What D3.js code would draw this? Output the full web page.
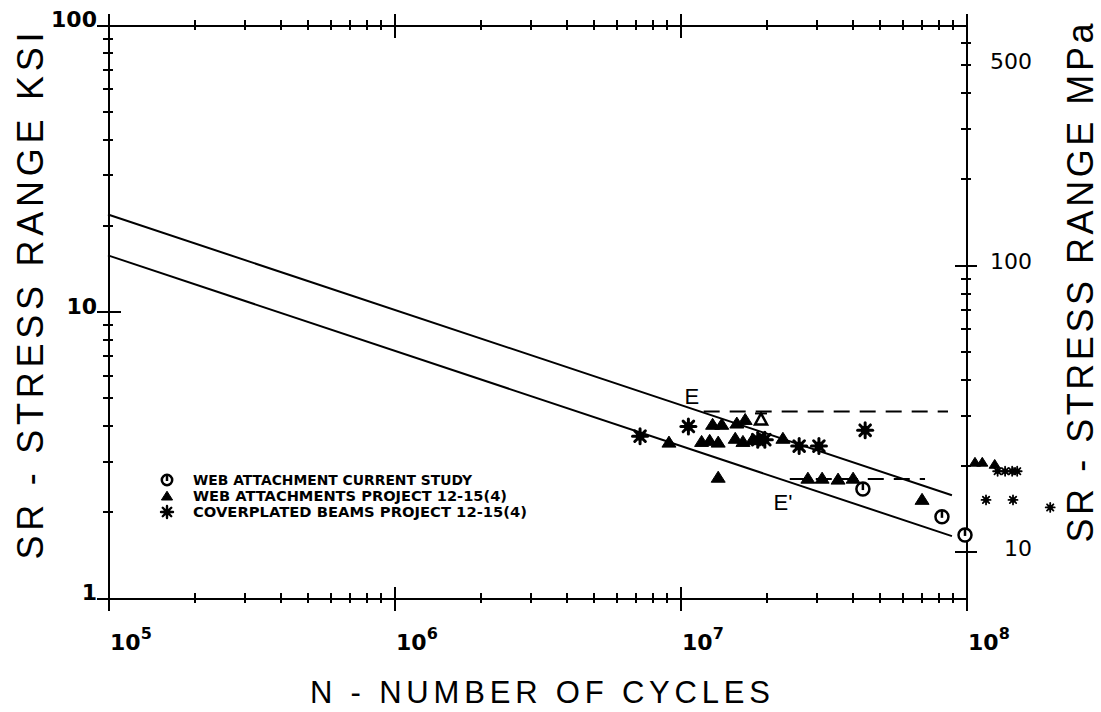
<!doctype html>
<html>
<head>
<meta charset="utf-8">
<title>SR - N fatigue data, category E and E'</title>
<script src="https://d3js.org/d3.v7.min.js"></script>
<style>
  body { margin: 0; background: #fff; }
  .axis path, .axis line { fill: none; stroke: #000; stroke-width: 2; shape-rendering: crispEdges; }
  .title { font-family: "Liberation Sans", sans-serif; fill: #000; }
  .lbl { font-family: "DejaVu Sans", sans-serif; fill: #000; }
</style>
</head>
<body>
<script>
// ---- data (N = cycles, s = stress range in ksi) ----
var currentStudy = [
  {n: 4.36e7, s: 2.40},
  {n: 8.24e7, s: 1.92},
  {n: 9.92e7, s: 1.66}
];
var webAttachments = [
  {n: 9.15e6, s: 3.50}, {n: 1.19e7, s: 3.52}, {n: 1.27e7, s: 3.55}, {n: 1.36e7, s: 3.50},
  {n: 1.30e7, s: 4.04}, {n: 1.40e7, s: 4.04}, {n: 1.58e7, s: 4.08}, {n: 1.69e7, s: 4.20},
  {n: 1.56e7, s: 3.61}, {n: 1.66e7, s: 3.52}, {n: 1.79e7, s: 3.57}, {n: 2.29e7, s: 3.61},
  {n: 1.36e7, s: 2.64}, {n: 2.80e7, s: 2.62}, {n: 3.14e7, s: 2.62}, {n: 3.57e7, s: 2.60},
  {n: 4.03e7, s: 2.62}, {n: 7.02e7, s: 2.21}
];
var webAttachmentsOpen = [ {n: 1.92e7, s: 4.20} ];
var webRunouts = [ {n: 1.075e8, s: 2.98}, {n: 1.14e8, s: 2.98}, {n: 1.26e8, s: 2.93} ];
var coverplated = [
  {n: 7.25e6, s: 3.67}, {n: 1.07e7, s: 3.97}, {n: 1.87e7, s: 3.57}, {n: 1.98e7, s: 3.57},
  {n: 2.61e7, s: 3.39}, {n: 3.06e7, s: 3.39}, {n: 4.44e7, s: 3.85}
];
var coverRunouts = [
  {n: 1.29e8, s: 2.77}, {n: 1.37e8, s: 2.77}, {n: 1.45e8, s: 2.77}, {n: 1.51e8, s: 2.77},
  {n: 1.175e8, s: 2.20}, {n: 1.46e8, s: 2.20}, {n: 1.97e8, s: 2.07}
];
// design curves and fatigue thresholds
var curveE  = [ {n: 1e5, s: 21.8}, {n: 8.93e7, s: 2.285} ];
var curveE2 = [ {n: 1e5, s: 15.7}, {n: 8.93e7, s: 1.644} ];
var thresholdE  = [ {n: 1.21e7, s: 4.48}, {n: 8.65e7, s: 4.48} ];
var thresholdE2 = [ {n: 2.42e7, s: 2.60}, {n: 7.19e7, s: 2.60} ];
var curveLabels = [ {text: "E", n: 1.10e7, s: 5.06}, {text: "E'", n: 2.29e7, s: 2.16} ];

var xExponents = ["5", "6", "7", "8"];
var xDecades = [1e5, 1e6, 1e7, 1e8];
var ksiLabels = [1, 10, 100];
var mpaLabels = [10, 100, 500];
var legendTexts = [
  "WEB ATTACHMENT  CURRENT STUDY",
  "WEB ATTACHMENTS  PROJECT 12-15(4)",
  "COVERPLATED BEAMS  PROJECT 12-15(4)"
];

// ---- drawing ----
var W = 1101, H = 712;
var svg = d3.select("body").append("svg").attr("width", W).attr("height", H);

var x = d3.scaleLog().domain([1e5, 1e8]).range([108, 966]);
var y = d3.scaleLog().domain([1, 100]).range([598, 25]);
var yM = d3.scaleLog().domain([6.895, 689.5]).range([598, 25]); // 1 ksi = 6.895 MPa

function isDecade(v) { return Math.abs(Math.log10(v) - Math.round(Math.log10(v))) < 1e-6; }

// bottom + top axes
function hAxis(gen, ypos) {
  var g = svg.append("g").attr("class", "axis").attr("transform", "translate(0," + ypos + ")")
    .call(gen.tickValues(x.ticks()).tickFormat("").tickSizeInner(0).tickSizeOuter(0));
  g.selectAll(".tick line")
    .attr("y1", function(d){ return isDecade(d) ? -11 : -5; })
    .attr("y2", function(d){ return isDecade(d) ? 13 : 5; });
  return g;
}
hAxis(d3.axisBottom(x), 598);
hAxis(d3.axisTop(x), 25);

// left + right axes
var gl = svg.append("g").attr("class", "axis").attr("transform", "translate(108,0)")
  .call(d3.axisLeft(y).tickValues(y.ticks()).tickFormat("").tickSizeInner(0).tickSizeOuter(0));
gl.selectAll(".tick line")
  .attr("x1", function(d){ return isDecade(d) ? -11 : -5; })
  .attr("x2", function(d){ return isDecade(d) ? 13 : 5; });

var gr = svg.append("g").attr("class", "axis").attr("transform", "translate(966,0)")
  .call(d3.axisRight(yM).tickValues(yM.ticks().filter(function(v){ return v >= 10; }))
    .tickFormat("").tickSizeInner(0).tickSizeOuter(0));
gr.selectAll(".tick line")
  .attr("x1", function(d){ return isDecade(d) ? -11 : -5; })
  .attr("x2", function(d){ return isDecade(d) ? 11 : 5; });

// tick labels
var xl = svg.selectAll(".xlab").data(xDecades).enter().append("text")
  .attr("class", "lbl").attr("x", function(d){ return x(d) + 2; }).attr("y", 650)
  .style("font-size", "22px").style("font-weight", "bold");
xl.append("tspan").text("10");
xl.append("tspan").attr("dy", -11).style("font-size", "16px")
  .text(function(d, i){ return xExponents[i]; });

svg.selectAll(".ylab").data(ksiLabels).enter().append("text")
  .attr("class", "lbl").attr("x", 97).attr("y", function(d){ return y(d) + 2; })
  .attr("text-anchor", "end").style("font-size", "22px").style("font-weight", "bold")
  .text(function(d){ return d; });

svg.selectAll(".mlab").data(mpaLabels).enter().append("text")
  .attr("class", "lbl").attr("x", 1032).attr("y", function(d){ return yM(d) + 4; })
  .attr("text-anchor", "end").style("font-size", "22px")
  .text(function(d){ return d; });

// axis titles
svg.append("text").attr("class", "title")
  .attr("x", 540).attr("y", 703).attr("text-anchor", "middle")
  .attr("textLength", 460).attr("lengthAdjust", "spacing")
  .style("font-size", "31px").text("N - NUMBER OF CYCLES");
svg.append("text").attr("class", "title")
  .attr("transform", "translate(43,296) rotate(-90)").attr("text-anchor", "middle")
  .attr("textLength", 527).attr("lengthAdjust", "spacing")
  .style("font-size", "36px").text("SR - STRESS RANGE KSI");
svg.append("text").attr("class", "title")
  .attr("transform", "translate(1093,283) rotate(-90)").attr("text-anchor", "middle")
  .attr("textLength", 519).attr("lengthAdjust", "spacing")
  .style("font-size", "36px").text("SR - STRESS RANGE MPa");

// curves
var line = d3.line().x(function(d){ return x(d.n); }).y(function(d){ return y(d.s); });
[curveE, curveE2].forEach(function(c){
  svg.append("path").datum(c).attr("d", line)
    .attr("fill", "none").attr("stroke", "#000").attr("stroke-width", 2);
});
[thresholdE, thresholdE2].forEach(function(c){
  svg.append("path").datum(c).attr("d", line)
    .attr("fill", "none").attr("stroke", "#000").attr("stroke-width", 2)
    .attr("stroke-dasharray", "16,10");
});
svg.selectAll(".clab").data(curveLabels).enter().append("text")
  .attr("class", "title").attr("x", function(d){ return x(d.n); }).attr("y", function(d){ return y(d.s) + 8; })
  .attr("text-anchor", "middle").style("font-size", "22px")
  .text(function(d){ return d.text; });

// symbols
function tri(g, k) {
  g.append("path").attr("d", "M0," + (-6*k) + "L" + (7*k) + "," + (5*k) + "L" + (-7*k) + "," + (5*k) + "Z")
    .attr("fill", "#000").attr("stroke", "#000").attr("stroke-width", 1);
}
function openTri(g) {
  g.append("path").attr("d", "M0,-6L6,5L-6,5Z")
    .attr("fill", "none").attr("stroke", "#000").attr("stroke-width", 2.5);
  g.append("line").attr("x1", -6).attr("x2", 6).attr("y1", -6).attr("y2", -6)
    .attr("stroke", "#000").attr("stroke-width", 2);
}
function star(g, k) {
  var arms = d3.range(8).map(function(i){ return i * Math.PI / 4; });
  arms.forEach(function(a){
    g.append("line").attr("x1", 0).attr("y1", 0)
      .attr("x2", 7.5*k*Math.cos(a)).attr("y2", 7.5*k*Math.sin(a))
      .attr("stroke", "#000").attr("stroke-width", 3*k).attr("stroke-linecap", "round");
  });
  g.append("circle").attr("r", 4.5*k).attr("fill", "#000");
}
function ring(g, k) {
  g.append("circle").attr("r", 6.5*k).attr("fill", "#fff").attr("stroke", "#000").attr("stroke-width", 2.5);
  g.append("line").attr("x1", 0).attr("x2", 0).attr("y1", -6.5*k).attr("y2", 1)
    .attr("stroke", "#000").attr("stroke-width", 2.5);
}

function plot(data, draw, k) {
  svg.append("g").selectAll("g").data(data).enter().append("g")
    .attr("transform", function(d){ return "translate(" + x(d.n) + "," + y(d.s) + ")"; })
    .each(function(){ draw(d3.select(this), k); });
}
plot(coverplated, star, 1);
plot(coverRunouts, star, 0.6);
plot(webAttachments, tri, 1);
plot(webRunouts, tri, 0.8);
plot(webAttachmentsOpen, openTri, 1);
plot(currentStudy, ring, 1);

// legend
var legendDraw = [ring, tri, star];
var legendLen = [279, 314, 334];
legendTexts.forEach(function(t, i){
  var ly = 480 + i * 16;
  var g = svg.append("g").attr("transform", "translate(167," + ly + ")");
  legendDraw[i](g, 0.8);
  svg.append("text").attr("class", "lbl").attr("x", 193).attr("y", ly + 5)
    .attr("textLength", legendLen[i]).attr("lengthAdjust", "spacingAndGlyphs")
    .style("font-size", "14px").style("font-weight", "bold").text(t);
});
</script>
</body>
</html>
